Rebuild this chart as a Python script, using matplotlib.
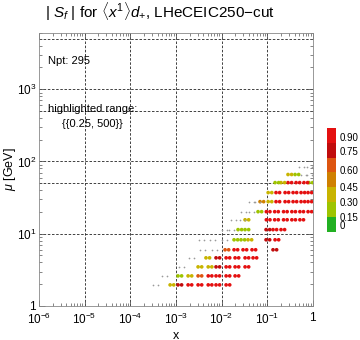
import numpy as np
import matplotlib
matplotlib.use("Agg")
import matplotlib.pyplot as plt
from matplotlib.colors import ListedColormap, BoundaryNorm
from matplotlib.cm import ScalarMappable
from matplotlib.transforms import offset_copy

plt.rcParams['font.family'] = ['Liberation Sans', 'DejaVu Sans']
plt.rcParams['mathtext.fontset'] = 'custom'
plt.rcParams['mathtext.rm'] = 'Liberation Sans'
plt.rcParams['mathtext.it'] = 'Liberation Sans:italic'

# rows of pseudodata: scale mu, coloured points (x, |S_f|) and grey points (x)
row_mu = [1.96, 2.61, 3.48, 4.64, 6.0, 8.25, 11.4, 15.6, 20.2, 27.8, 37.1, 51, 66, 85]
row_x = [
    [8.2e-4, 1.22e-3, 2.03e-3, 3.36e-3, 5.6e-3, 8.3e-3, 0.0138],
    [1.22e-3, 2.03e-3, 3.36e-3, 5.6e-3, 8.3e-3, 0.0138, 0.0217],
    [3.36e-3, 5.6e-3, 8.3e-3, 0.0138, 0.0217, 0.0359],
    [5.0e-3, 8.3e-3, 0.0138, 0.0217, 0.0359, 0.0537],
    [0.0131, 0.0206, 0.0324, 0.051, 0.147],
    [0.0206, 0.0293, 0.0417, 0.1035, 0.163],
    [0.0252, 0.0359, 0.1035, 0.147, 0.22],
    [0.0359, 0.105, 0.16, 0.25, 0.38, 0.57],
    [0.069, 0.105, 0.16, 0.25, 0.38, 0.57, 0.86],
    [0.0764, 0.115, 0.171, 0.27, 0.404, 0.604, 0.86],
    [0.115, 0.171, 0.27, 0.404, 0.604, 0.86],
    [0.163, 0.22, 0.313, 0.47, 0.70, 0.90],
    [0.313, 0.447],
    [],
]
row_val = [
    [0.35, 0.8, 0.95, 0.95, 0.95, 0.95, 0.95],
    [0.2, 0.35, 0.6, 0.95, 0.95, 0.95, 0.95],
    [0.35, 0.4, 0.8, 0.95, 0.95, 0.95],
    [0.4, 0.8, 0.95, 0.95, 0.95, 0.95],
    [0.6, 0.95, 0.95, 0.95, 0.7],
    [0.2, 0.2, 0.3, 0.8, 0.95],
    [0.2, 0.25, 0.8, 0.95, 0.95],
    [0.35, 0.95, 0.95, 0.95, 0.95, 0.95],
    [0.2, 0.95, 0.95, 0.95, 0.95, 0.95, 0.95],
    [0.55, 0.35, 0.95, 0.95, 0.95, 0.95, 0.95],
    [0.35, 0.95, 0.95, 0.95, 0.95, 0.95],
    [0.2, 0.3, 0.95, 0.95, 0.95, 0.2],
    [0.35, 0.2],
    [],
]
gray_x = [
    [3.5e-4], [5.7e-4], [1.35e-3], [2.24e-3], [3.9e-3, 7.1e-3],
    [3.7e-3, 6.2e-3, 0.0118], [0.0118, 0.0168], [0.0186, 0.0293],
    [0.03, 0.045], [0.046, 0.06], [], [], [0.635, 0.86], [0.575, 0.86],
]

cbar_levels = [-0.135, 0.15, 0.30, 0.45, 0.58, 0.70, 0.82, 1.035]
cbar_colors = ['#22b022', '#9ec400', '#c8b400', '#cf8000', '#dd5510', '#c00c0c', '#e41010']
cbar_ticks = [0, 0.15, 0.30, 0.45, 0.60, 0.75, 0.90]
cbar_labels = ['0', '0.15', '0.30', '0.45', '0.60', '0.75', '0.90']

grid_x = [1e-5, 1e-4, 1e-3, 1e-2, 1e-1]
grid_mu = [10, 50, 100, 500, 1000, 5000]

xticks = [1e-6, 1e-5, 1e-4, 1e-3, 1e-2, 1e-1, 1]
xlabels = [r'$10^{-6}$', r'$10^{-5}$', r'$10^{-4}$', r'$10^{-3}$', r'$10^{-2}$', r'$10^{-1}$', '1']
yticks = [1, 10, 100, 1000]
ylabels = ['1', r'$10^{1}$', r'$10^{2}$', r'$10^{3}$']

cmap = ListedColormap(cbar_colors)
norm = BoundaryNorm(cbar_levels, cmap.N)

fig = plt.figure(figsize=(3.6, 3.4), dpi=100)
ax = fig.add_axes([0.108, 0.1, 0.761, 0.803])
ax.set_xscale('log')
ax.set_yscale('log')
ax.set_xlim(1e-6, 1)
ax.set_ylim(1, 6000)

for g in grid_x:
    ax.axvline(g, color='#222222', lw=0.6, ls=(0, (3, 2)), zorder=1)
for g in grid_mu:
    ax.axhline(g, color='#222222', lw=0.6, ls=(0, (3, 2)), zorder=1)

# each location holds a pair of close points
left = offset_copy(ax.transData, fig=fig, x=-1.3, y=0, units='points')
right = offset_copy(ax.transData, fig=fig, x=1.3, y=0, units='points')
gleft = offset_copy(ax.transData, fig=fig, x=-1.8, y=0, units='points')
gright = offset_copy(ax.transData, fig=fig, x=1.8, y=0, units='points')
for mu, xs, vs, gx in zip(row_mu, row_x, row_val, gray_x):
    if xs:
        for tr in (left, right):
            ax.scatter(xs, [mu] * len(xs), c=vs, cmap=cmap, norm=norm, s=7,
                       linewidths=0, transform=tr, zorder=3)
    if gx:
        for tr in (gleft, gright):
            ax.scatter(gx, [mu] * len(gx), color='#9a9a9a', s=1.5,
                       linewidths=0, transform=tr, zorder=3)

ax.set_xticks(xticks)
ax.set_xticklabels(xlabels)
ax.set_yticks(yticks)
ax.set_yticklabels(ylabels)
ax.tick_params(which='both', direction='in', top=True, right=True,
               labelsize=8.5, color='#555555')
ax.tick_params(which='major', length=4, width=0.6)
ax.tick_params(which='minor', length=2, width=0.5)
ax.tick_params(axis='y', pad=2)
ax.tick_params(axis='x', pad=4)
for s in ax.spines.values():
    s.set_linewidth(0.6)
    s.set_color('#888888')

ax.set_xlabel('x', fontsize=9, labelpad=2)
ax.set_ylabel(r'$\mu$ [GeV]', fontsize=9)
ax.yaxis.set_label_coords(-0.075, 0.5)
ax.text(0.033, 0.897, 'Npt: 295', transform=ax.transAxes, fontsize=8, va='center')
ax.text(0.197, 0.72, 'highlighted range:', transform=ax.transAxes, fontsize=8,
        ha='center', va='center')
ax.text(0.197, 0.668, '{{0.25, 500}}', transform=ax.transAxes, fontsize=8,
        ha='center', va='center')

fig.text(0.444, 0.965, r'$|\ S_f\ |$ for $\langle x^1\rangle d_{+}$, LHeCEIC250$-$cut',
         fontsize=11, ha='center', va='center')

cax = fig.add_axes([0.908, 0.318, 0.024, 0.306])
sm = ScalarMappable(norm=norm, cmap=cmap)
cb = fig.colorbar(sm, cax=cax, ticks=cbar_ticks)
cb.ax.minorticks_off()
cb.ax.set_yticklabels(cbar_labels)
cb.ax.tick_params(length=0, labelsize=7, pad=3)
cb.outline.set_visible(False)

fig.savefig('out.png', dpi=100)
